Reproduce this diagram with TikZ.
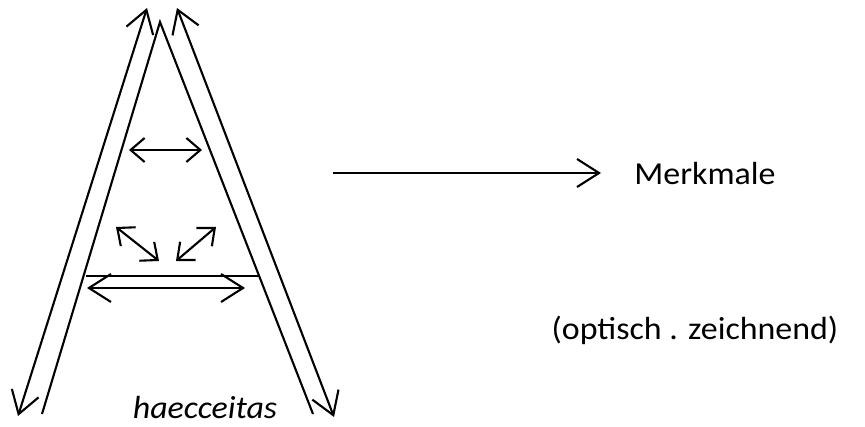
\documentclass[tikz,border=0pt]{standalone}
\usepackage{fontspec}
\setmainfont{Carlito}
\usetikzlibrary{arrows.meta}
\begin{document}
\begin{tikzpicture}[x=1pt,y=-1pt,line width=2.1pt,
  >={Straight Barb[length=22pt,width=28pt,line width=2.1pt]},
  small/.style={>={Straight Barb[length=14pt,width=24pt,line width=2.1pt]}},
  lbl/.style={inner sep=0pt,xscale=1.06,font=\fontsize{32}{38}\selectfont}]
\useasboundingbox (0,0) rectangle (865,427);
% inner A
\coordinate (apex) at (160,22);
\coordinate (ilb) at (42,414);
\coordinate (irb) at (313,414);
\draw (ilb) -- (apex) -- (irb);
% outer double arrows
\coordinate (olt) at (147,8);
\coordinate (olb) at (18,416);
\coordinate (ort) at (177,8);
\coordinate (orb) at (334,417);
\draw[<->] (olb) -- (olt);
\draw[<->] (ort) -- (orb);
% crossbar
\coordinate (cbl) at (86,276);
\coordinate (cbr) at (259,276);
\draw (cbl) -- (cbr);
% lower double arrow
\coordinate (lal) at (87,288);
\coordinate (lar) at (245,288);
\draw[<->] (lal) -- (lar);
% upper double arrow
\coordinate (ual) at (129,150);
\coordinate (uar) at (202,150);
\draw[<->,small] (ual) -- (uar);
% diagonal double arrows
\coordinate (d1a) at (116,227);
\coordinate (d1b) at (159,261);
\coordinate (d2a) at (216,227);
\coordinate (d2b) at (176,261);
\draw[<->,small] (d1a) -- (d1b);
\draw[<->,small] (d2a) -- (d2b);
% labels
\node[lbl,anchor=base] (merk) at (705,185) {Merkmale};
\node[lbl,anchor=base] (opt) at (695,340) {(optisch . zeichnend)};
\node[lbl,anchor=base,font=\fontsize{32}{38}\selectfont\itshape] (haec) at (205,419) {haecceitas};
% main arrow
\coordinate (ms) at (333,173);
\coordinate (me) at (601,173);
\draw[->] (ms) -- (me);
\end{tikzpicture}
\end{document}
